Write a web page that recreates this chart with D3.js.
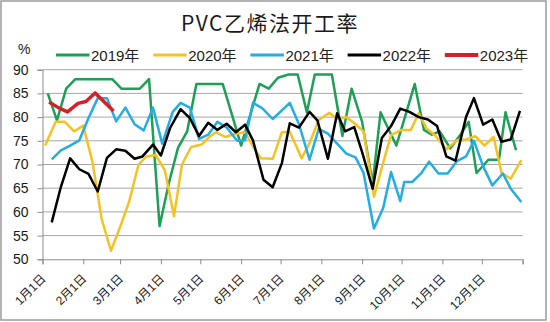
<!DOCTYPE html>
<html>
<head>
<meta charset="utf-8">
<script src="https://cdn.jsdelivr.net/npm/d3@7"></script>
<style>
  html, body { margin: 0; padding: 0; background: #fff; }
  svg { display: block; }
  text { font-family: "Liberation Sans", Arial, "Noto Sans CJK SC", sans-serif; }
</style>
</head>
<body>
<svg id="chart" width="550" height="322"></svg>
<script>
// Weekly ethylene-route PVC operating rate (%), one list per year: [month/day, value]
const rate2019 = [
  ["1/5",85],["1/12",79.3],["1/19",86],["1/26",88],["2/23",88],["3/2",86],["3/16",86],["3/23",88],
  ["3/31",57],["4/7",66],["4/14",73.5],["4/21",77],["4/28",87],["5/18",87],["5/25",80.5],["6/1",74],
  ["6/8",80.5],["6/15",87],["6/22",86],["6/29",88.3],["7/7",89],["7/14",89],["7/21",81],["7/27",89],
  ["8/9",89],["8/17",76],["8/24",86],["9/1",79],["9/9",66],["9/15",81],["9/21",77.5],["9/27",74],
  ["10/4",80.4],["10/11",87],["10/18",77.3],["10/24",76.3],["10/30",77],["11/7",73.4],["11/14",76],
  ["11/21",79],["11/27",68.2],["12/6",71],["12/14",71],["12/19",81],["12/27",73]
];
const rate2020 = [
  ["1/3",74],["1/11",79],["1/18",79],["1/25",77],["2/1",78.2],["2/8",70.5],["2/15",58.5],["2/22",51.8],
  ["3/1",56.8],["3/8",62.3],["3/15",70],["3/21",71.7],["3/28",72],["4/4",68.8],["4/11",59.1],["4/17",70],
  ["4/24",73.7],["5/2",74.2],["5/8",75.9],["5/13",76.8],["5/20",75.8],["5/28",76.5],["6/4",76.8],["6/10",73.8],
  ["6/16",71.3],["6/25",71.2],["7/2",76.8],["7/8",76.9],["7/17",71.3],["7/23",74.5],["7/30",79.4],["8/7",80.9],
  ["8/13",79.6],["8/20",80],["8/27",78.5],["9/2",77],["9/10",63.2],["9/17",70.4],["9/23",76.2],["10/1",77.3],
  ["10/8",77.3],["10/14",80.8],["10/20",77.6],["10/27",76],["11/4",73.2],["11/12",75.1],["11/19",75.3],
  ["11/26",76],["12/3",74],["12/10",75.8],["12/16",68.2],["12/23",67],["12/31",70.9]
];
const rate2021 = [
  ["1/8",71.1],["1/15",73],["1/22",74],["1/29",75.1],["2/5",79.8],["2/12",84],["2/19",84],["2/26",79.1],
  ["3/5",82],["3/12",78.5],["3/19",77.2],["3/26",82],["4/2",74.4],["4/10",81.1],["4/16",83],["4/23",82],
  ["4/30",75.4],["5/7",76.3],["5/14",79],["5/21",77.8],["5/29",75],["6/4",75.1],["6/10",83],["6/17",81.9],
  ["6/25",79.6],["7/8",83],["7/15",78.5],["7/23",71],["7/30",77.5],["8/6",76.5],["8/13",74.4],["8/20",72.3],
  ["8/27",71.5],["9/2",68.3],["9/10",56.5],["9/17",60.8],["9/23",68.4],["9/30",62.3],["10/3",66.3],
  ["10/9",66.3],["10/16",68.2],["10/22",70.6],["10/29",68.1],["11/5",68.1],["11/12",70.7],["11/19",71.7],
  ["11/25",75],["12/2",69.6],["12/9",65.6],["12/17",68.1],["12/23",64.9],["12/31",62.1]
];
const rate2022 = [
  ["1/8",57.8],["1/15",65.3],["1/22",71.3],["1/29",69],["2/5",68],["2/12",64.3],["2/19",71.4],["2/26",73.2],
  ["3/5",72.9],["3/12",71.2],["3/18",71.7],["3/26",74.2],["4/1",71.9],["4/8",77.7],["4/16",81.7],["4/23",79.8],
  ["4/30",76],["5/7",78.8],["5/14",77.3],["5/21",78.6],["5/28",76.8],["6/4",78.4],["6/10",75.1],["6/18",66.8],
  ["6/25",65.2],["7/2",70.3],["7/8",78.7],["7/15",77.8],["7/23",81.1],["7/29",79.3],["8/6",71.2],["8/13",80.8],
  ["8/19",77],["8/26",77.9],["9/1",72.6],["9/9",64.9],["9/16",75.6],["9/23",78.1],["9/30",81.8],["10/7",81.1],
  ["10/14",80],["10/21",79.5],["10/28",78.1],["11/4",71.7],["11/11",70.8],["11/19",80],["11/25",84],
  ["12/2",78.4],["12/9",79.5],["12/16",74.8],["12/23",75.3],["12/30",81.3]
];
const rate2023 = [
  ["1/6",83.2],["1/13",82],["1/20",81.1],["1/28",82.9],["2/3",83.3],["2/10",85.1],["2/17",83.2],["2/24",81.3]
];

const seriesNames = ["2019年", "2020年", "2021年", "2022年", "2023年"];
const seriesColors = ["#1e9f55", "#f5c223", "#24ade2", "#000000", "#d61f26"];
const seriesWidths = [2.5, 2.5, 2.5, 2.5, 3.5];
const seriesData = [rate2019, rate2020, rate2021, rate2022, rate2023];

const yTicks = [50, 55, 60, 65, 70, 75, 80, 85, 90];
const monthLabels = ["1月1日","2月1日","3月1日","4月1日","5月1日","6月1日",
                     "7月1日","8月1日","9月1日","10月1日","11月1日","12月1日"];
const titleText = "PVC乙烯法开工率";
const unitText = "%";

// All years share one calendar so they overlay on the same Jan–Dec axis
const BASE_YEAR = 2021;
const toDate = s => { const [m, d] = s.split("/").map(Number); return new Date(BASE_YEAR, m - 1, d); };

const svg = d3.select("#chart");
const plot = { left: 42.5, right: 522.6, top: 69.7, bottom: 259.3 };

const x = d3.scaleTime()
  .domain([new Date(BASE_YEAR, 0, 1), new Date(BASE_YEAR + 1, 0, 1)])
  .range([plot.left, plot.right]);
const y = d3.scaleLinear().domain([50, 90]).range([plot.bottom, plot.top]);

// Outer frame
svg.append("rect")
  .attr("x", 1).attr("y", 1).attr("width", 545).attr("height", 319)
  .attr("fill", "#fff").attr("stroke", "#9a9a9a").attr("stroke-width", 1.5);

// Title
svg.append("text")
  .attr("x", 270).attr("y", 31)
  .attr("text-anchor", "middle")
  .attr("font-size", 21)
  .attr("fill", "#1a1a1a")
  .style("font-family", "'Noto Sans CJK SC', 'Liberation Sans', sans-serif")
  .style("letter-spacing", "1.5px")
  .text(titleText);

// Unit label
svg.append("text")
  .attr("x", 18).attr("y", 54)
  .attr("font-size", 14)
  .attr("fill", "#222")
  .text(unitText);

// Horizontal gridlines
svg.append("g")
  .selectAll("line")
  .data(yTicks.filter(v => v !== 50))
  .join("line")
  .attr("x1", plot.left).attr("x2", plot.right)
  .attr("y1", d => y(d)).attr("y2", d => y(d))
  .attr("stroke", "#a6a6a6").attr("stroke-width", 1);

// Y axis
const yAxis = svg.append("g")
  .attr("transform", `translate(${plot.left},0)`)
  .call(d3.axisLeft(y).tickValues(yTicks).tickFormat(d3.format("d")).tickSize(5).tickPadding(9));
yAxis.select(".domain").attr("stroke", "#8c8c8c");
yAxis.selectAll(".tick line").attr("stroke", "#8c8c8c");
yAxis.selectAll("text")
  .attr("font-size", 14)
  .attr("fill", "#1a1a1a")
  .style("font-family", "'Liberation Sans', Arial, sans-serif");

// X axis with monthly ticks
const monthTicks = d3.timeMonth.range(new Date(BASE_YEAR, 0, 1), new Date(BASE_YEAR + 1, 0, 2));
const xAxis = svg.append("g")
  .attr("transform", `translate(0,${plot.bottom})`)
  .call(d3.axisBottom(x).tickValues(monthTicks).tickSize(5).tickFormat(() => ""));
xAxis.select(".domain").attr("stroke", "#8c8c8c");
xAxis.selectAll(".tick line").attr("stroke", "#8c8c8c");

svg.append("g")
  .selectAll("text")
  .data(monthLabels)
  .join("text")
  .attr("transform", (d, i) => `translate(${x(monthTicks[i]) + 4},${plot.bottom + 20}) rotate(-45)`)
  .attr("text-anchor", "end")
  .attr("font-size", 12)
  .attr("fill", "#222")
  .text(d => d);

// Series lines
const line = d3.line()
  .x(d => x(toDate(d[0])))
  .y(d => y(d[1]));

svg.append("g")
  .selectAll("path")
  .data(seriesData)
  .join("path")
  .attr("d", d => line(d))
  .attr("fill", "none")
  .attr("stroke", (d, i) => seriesColors[i])
  .attr("stroke-width", (d, i) => seriesWidths[i])
  .attr("stroke-linejoin", "round")
  .attr("stroke-linecap", "butt");

// Legend
const legendStart = 56, legendStep = 97.2, legendY = 55;
const legend = svg.append("g")
  .selectAll("g")
  .data(seriesNames)
  .join("g")
  .attr("transform", (d, i) => `translate(${legendStart + i * legendStep},${legendY})`);
legend.append("line")
  .attr("x1", 0).attr("x2", 33.5)
  .attr("stroke", (d, i) => seriesColors[i])
  .attr("stroke-width", (d, i) => seriesWidths[i] + 0.5);
legend.append("text")
  .attr("x", 35).attr("y", 5.5)
  .attr("font-size", 15)
  .attr("fill", "#222")
  .text(d => d);
</script>
</body>
</html>
